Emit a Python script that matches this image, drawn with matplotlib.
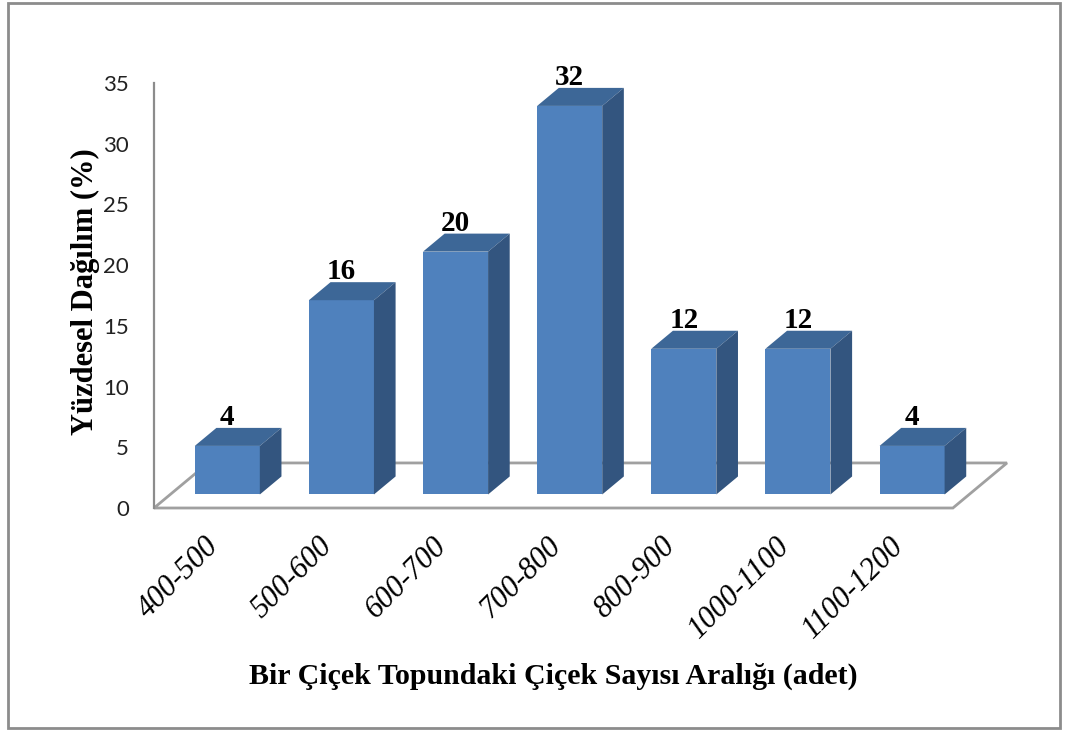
import matplotlib
matplotlib.use("Agg")
import matplotlib.pyplot as plt
from matplotlib.patches import Polygon, Rectangle
from matplotlib.transforms import ScaledTranslation

# data
categories = ["400-500", "500-600", "600-700", "700-800", "800-900", "1000-1100", "1100-1200"]
values = [4, 16, 20, 32, 12, 12, 4]

front = "#4F81BD"
top_col = "#3D6797"
side_col = "#33557F"
grid_col = "#8C8C8C"

W, H = 1070, 731
fig = plt.figure(figsize=(W / 100, H / 100), dpi=100)

# floor depth in data units and bar depth range (fractions of floor depth)
Dx, Dy = 0.474, 3.71
d0, d1 = 0.3, 0.7
bw = 0.57

ax = fig.add_axes([154 / W, (H - 508) / H, (1007 - 154) / W, 425 / H])
ax.set_xlim(-0.5, 6.5 + Dx)
ax.set_ylim(0, 35)

for s in ["top", "right", "bottom"]:
    ax.spines[s].set_visible(False)
ax.spines["left"].set_color(grid_col)
ax.spines["left"].set_linewidth(1.6)

# floor
floor = Polygon([(-0.5, 0), (6.5, 0), (6.5 + Dx, Dy), (-0.5 + Dx, Dy)],
                closed=True, fill=False, edgecolor="#A0A0A0", lw=2.0,
                clip_on=False, zorder=1)
ax.add_patch(floor)

bdx = (d1 - d0) * Dx
bdy = (d1 - d0) * Dy
bot = d0 * Dy
for i, v in enumerate(values):
    xc = i + d0 * Dx
    xl, xr = xc - bw / 2, xc + bw / 2
    t = bot + v
    ax.bar(xc, v, bottom=bot, width=bw, color=front, edgecolor="none", zorder=3, clip_on=False)
    ax.add_patch(Polygon([(xl, t), (xr, t), (xr + bdx, t + bdy), (xl + bdx, t + bdy)],
                         closed=True, facecolor=top_col, edgecolor="none", zorder=3, clip_on=False))
    ax.add_patch(Polygon([(xr, bot), (xr + bdx, bot + bdy), (xr + bdx, t + bdy), (xr, t)],
                         closed=True, facecolor=side_col, edgecolor="none", zorder=3, clip_on=False))
    ax.text(xc, t + bdy + 0.25, str(v), ha="center", va="baseline",
            fontsize=21, fontweight="bold", family="Liberation Serif", zorder=4, clip_on=False)

ax.set_yticks(range(0, 36, 5))
ax.tick_params(axis="y", length=0, pad=18, labelsize=16, labelcolor="#222222")
for lab in ax.get_yticklabels():
    lab.set_family("Lato")

ax.set_xticks(range(len(categories)))
ax.set_xticklabels(categories)
ax.tick_params(axis="x", length=0, pad=17)
shift = ScaledTranslation(-7 / 100, 0, fig.dpi_scale_trans)
for lab in ax.get_xticklabels():
    lab.set_rotation(45)
    lab.set_rotation_mode("anchor")
    lab.set_ha("right")
    lab.set_va("top")
    lab.set_fontsize(22)
    lab.set_family("Liberation Serif")
    lab.set_style("italic")
    lab.set_transform(lab.get_transform() + shift)

fig.text(553 / W, 1 - 676 / H, "Bir Çiçek Topundaki Çiçek Sayısı Aralığı (adet)",
         ha="center", va="center", fontsize=21.5, fontweight="bold", family="Liberation Serif")
fig.text(85 / W, 1 - 292 / H, "Yüzdesel Dağılım (%)", rotation=90,
         ha="center", va="center", fontsize=22, fontweight="bold", family="Liberation Serif")

fig.add_artist(Rectangle((8 / W, 3 / H), (1060 - 8) / W, (728 - 3) / H,
                         transform=fig.transFigure, fill=False, edgecolor=grid_col, lw=2))

fig.savefig("out.png", dpi=100)
